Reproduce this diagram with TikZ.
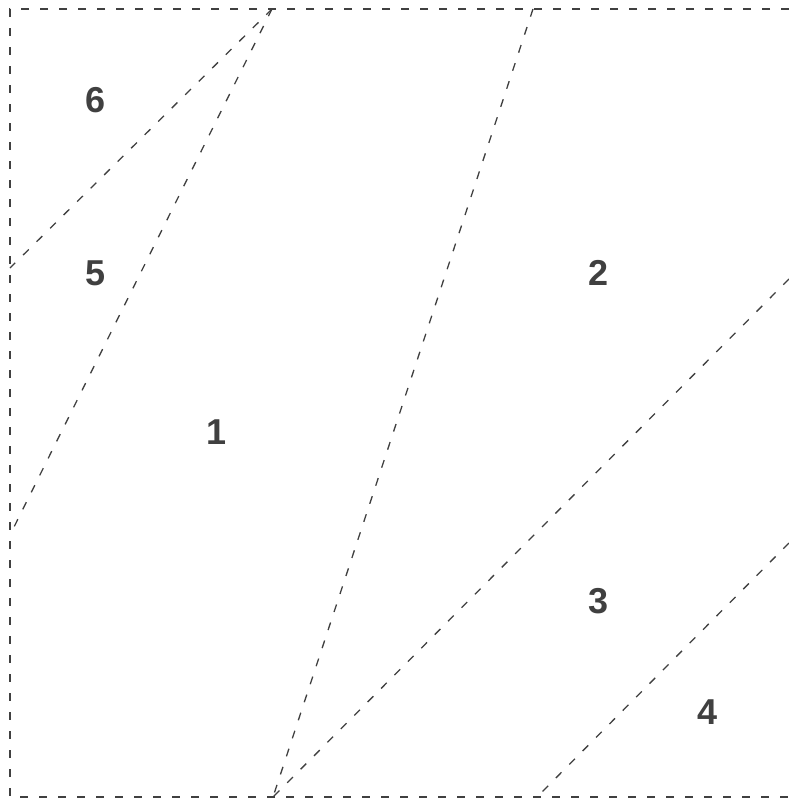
\documentclass[tikz,border=0pt]{standalone}
\usepackage{fontspec}
\setmainfont{Liberation Sans}
\begin{document}
\begin{tikzpicture}[x=1pt,y=-1pt,
  cut/.style={draw=black!75, line width=1.3pt, dash pattern=on 8pt off 11pt},
  lbl/.style={font=\bfseries\fontsize{36}{42}\selectfont, text=black!75, inner sep=0pt}]
\useasboundingbox (0,0) rectangle (789,798);
\coordinate (TL) at (10,9);
\coordinate (TR) at (789,9);
\coordinate (BL) at (10,797);
\coordinate (BR) at (789,797);
\coordinate (T1) at (272,9);
\coordinate (T2) at (533,9);
\coordinate (L1) at (10,268);
\coordinate (L2) at (10,535);
\coordinate (B1) at (273,797);
\coordinate (B2) at (537,797);
\coordinate (R1) at (789,279);
\coordinate (R2) at (789,543);
\draw[cut] (TR) -- (TL) -- (BL) -- (BR);
\draw[cut] (T1) -- (L1);
\draw[cut] (T1) -- (L2);
\draw[cut] (T2) -- (B1);
\draw[cut] (R1) -- (B1);
\draw[cut] (R2) -- (B2);
\node[lbl] (n6) at (96,100) {6};
\node[lbl] (n5) at (96,273) {5};
\node[lbl] (n2) at (599,273) {2};
\node[lbl] (n1) at (217,432) {1};
\node[lbl] (n3) at (599,601) {3};
\node[lbl] (n4) at (708,712) {4};
\end{tikzpicture}
\end{document}
